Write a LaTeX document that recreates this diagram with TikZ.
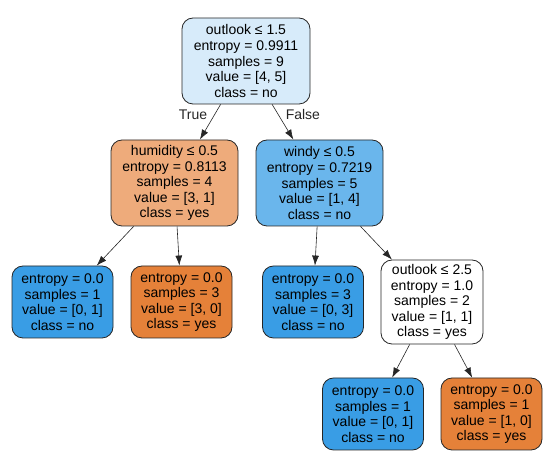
\documentclass[tikz,border=0pt]{standalone}
\usepackage{fontspec}
\setmainfont{Liberation Sans}
\usetikzlibrary{arrows.meta}

\definecolor{leafblue}{HTML}{399DE5}
\definecolor{leaforange}{HTML}{E58139}
\definecolor{rootblue}{HTML}{D7EBFA}
\definecolor{midorange}{HTML}{EEAB7B}
\definecolor{midblue}{HTML}{6AB6EC}

\begin{document}
\begin{tikzpicture}[x=1pt, y=-1pt,
    split/.style={draw=black!85, line width=0.8pt, rounded corners=11pt, align=center,
        inner sep=0pt, minimum width=127pt, minimum height=86pt,
        font=\fontsize{14}{15.6}\selectfont},
    leaf/.style={split, minimum width=101pt, minimum height=72pt},
    edge/.style={-{Latex[length=10pt, width=7pt]}, line width=0.6pt, black!85},
    branch/.style={font=\fontsize{14}{15.6}\selectfont, inner sep=2pt}]

    \useasboundingbox (0,0) rectangle (550,454);

    \node[split, fill=rootblue, minimum width=128pt] (root) at (246,61)
        {outlook ≤ 1.5\\entropy = 0.9911\\samples = 9\\value = [4, 5]\\class = no};

    \node[split, fill=midorange] (humidity) at (174.5,183)
        {humidity ≤ 0.5\\entropy = 0.8113\\samples = 4\\value = [3, 1]\\class = yes};
    \node[split, fill=midblue] (windy) at (319.5,183)
        {windy ≤ 0.5\\entropy = 0.7219\\samples = 5\\value = [1, 4]\\class = no};

    \node[leaf, fill=leafblue] (leafA) at (62.5,302)
        {entropy = 0.0\\samples = 1\\value = [0, 1]\\class = no};
    \node[leaf, fill=leaforange] (leafB) at (181.5,302)
        {entropy = 0.0\\samples = 3\\value = [3, 0]\\class = yes};
    \node[leaf, fill=leafblue] (leafC) at (313,302)
        {entropy = 0.0\\samples = 3\\value = [0, 3]\\class = no};
    \node[split, fill=white, minimum width=102pt, minimum height=84pt] (outlook) at (432,302)
        {outlook ≤ 2.5\\entropy = 1.0\\samples = 2\\value = [1, 1]\\class = yes};

    \node[leaf, fill=leafblue] (leafD) at (373,414)
        {entropy = 0.0\\samples = 1\\value = [0, 1]\\class = no};
    \node[leaf, fill=leaforange] (leafE) at (491.5,414)
        {entropy = 0.0\\samples = 1\\value = [1, 0]\\class = yes};

    \draw[edge] (root) -- (humidity) node[branch, pos=0.3, anchor=east, xshift=-5pt] {True};
    \draw[edge] (root) -- (windy) node[branch, pos=0.3, anchor=west, xshift=5pt] {False};
    \draw[edge] (humidity) -- (leafA);
    \draw[edge] (humidity) -- (leafB);
    \draw[edge] (windy) -- (leafC);
    \draw[edge] (windy) -- (outlook);
    \draw[edge] (outlook) -- (leafD);
    \draw[edge] (outlook) -- (leafE);

\end{tikzpicture}
\end{document}
